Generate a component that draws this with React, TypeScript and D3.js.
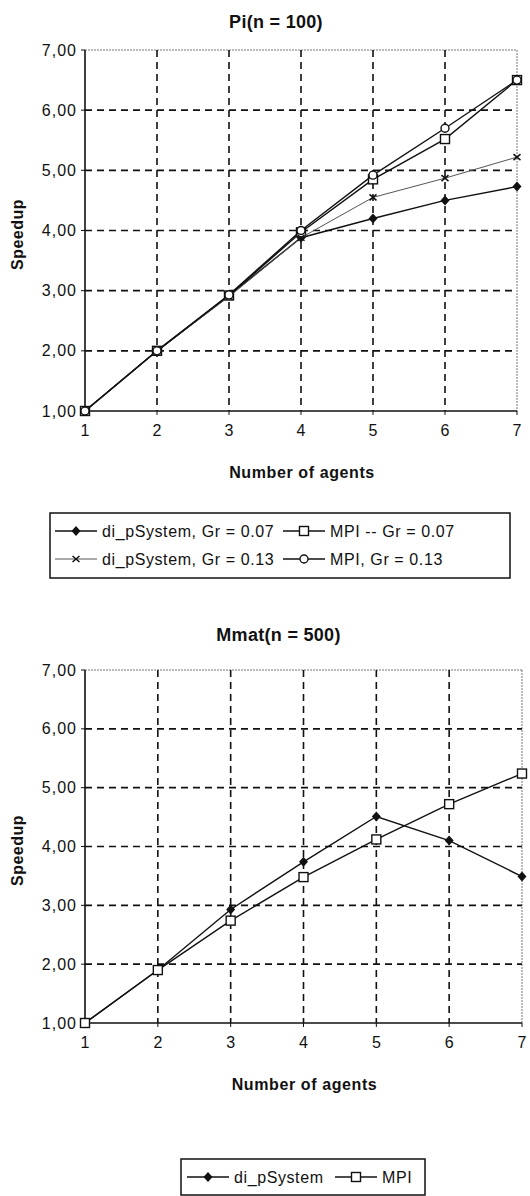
import React from "react";
import * as d3 from "d3";

// shared x categories
const agents = [1, 2, 3, 4, 5, 6, 7];
const yTicks = [1, 2, 3, 4, 5, 6, 7];

// Pi(n = 100)
const piDiP007 = [1.0, 2.0, 2.92, 3.88, 4.2, 4.5, 4.73];
const piMpi007 = [1.0, 2.0, 2.92, 3.97, 4.85, 5.52, 6.5];
const piDiP013 = [1.0, 2.0, 2.9, 3.88, 4.55, 4.87, 5.22];
const piMpi013 = [1.0, 2.0, 2.93, 4.0, 4.92, 5.7, 6.5];

// Mmat(n = 500)
const mmDiP = [1.0, 1.9, 2.93, 3.74, 4.51, 4.1, 3.49];
const mmMpi = [1.0, 1.9, 2.74, 3.48, 4.12, 4.72, 5.24];

const FONT = "Arial, 'Liberation Sans', sans-serif";

type Series = { name: string; values: number[]; marker: string; thin?: boolean };

const Marker = ({ type, x, y }: { type: string; x: number; y: number }) => {
  if (type === "diamond")
    return <path d={`M${x},${y - 5}L${x + 4.5},${y}L${x},${y + 5}L${x - 4.5},${y}Z`} fill="#111" />;
  if (type === "square")
    return <rect x={x - 4.5} y={y - 4.5} width={9} height={9} fill="#fff" stroke="#111" strokeWidth={1.4} />;
  if (type === "circle")
    return <circle cx={x} cy={y} r={4} fill="#fff" stroke="#111" strokeWidth={1.4} />;
  // x marker
  return (
    <g stroke="#111" strokeWidth={1.5}>
      <line x1={x - 3.5} y1={y - 3} x2={x + 3.5} y2={y + 3} />
      <line x1={x - 3.5} y1={y + 3} x2={x + 3.5} y2={y - 3} />
    </g>
  );
};

const Chart = ({
  top, bottom, right, title, titleY, series,
}: { top: number; bottom: number; right: number; title: string; titleY: number; series: Series[] }) => {
  const left = 85;
  const x = d3.scaleLinear().domain([1, 7]).range([left, right]);
  const y = d3.scaleLinear().domain([1, 7]).range([bottom, top]);
  const line = d3.line<number>().x((_, i) => x(agents[i])).y((d) => y(d));

  return (
    <g fontFamily={FONT} fill="#111">
      <text x={(left + right) / 2 - 25} y={titleY} textAnchor="middle" fontSize={18} fontWeight="bold" letterSpacing={0.3}>
        {title}
      </text>
      {/* frame top/right dotted */}
      <line x1={left} x2={right} y1={top} y2={top} stroke="#777" strokeDasharray="2,1" />
      <line x1={right} x2={right} y1={top} y2={bottom} stroke="#777" strokeDasharray="2,1" />
      {/* grid */}
      {yTicks.slice(1, -1).map((t) => (
        <line key={"h" + t} x1={left} x2={right} y1={y(t)} y2={y(t)} stroke="#111" strokeWidth={1.6} strokeDasharray="7,5" />
      ))}
      {agents.slice(1, -1).map((t) => (
        <line key={"v" + t} x1={x(t)} x2={x(t)} y1={top} y2={bottom} stroke="#111" strokeWidth={1.6} strokeDasharray="7,5" />
      ))}
      {/* axes */}
      <line x1={left} x2={left} y1={top} y2={bottom} stroke="#111" strokeWidth={1.6} />
      <line x1={left} x2={right} y1={bottom} y2={bottom} stroke="#111" strokeWidth={1.6} />
      {yTicks.map((t) => (
        <g key={"yt" + t}>
          <line x1={left - 4} x2={left} y1={y(t)} y2={y(t)} stroke="#111" />
          <text x={left - 8} y={y(t) + 5.5} textAnchor="end" fontSize={16} letterSpacing={1}>
            {d3.format(".2f")(t).replace(".", ",")}
          </text>
        </g>
      ))}
      {agents.map((t) => (
        <g key={"xt" + t}>
          <line x1={x(t)} x2={x(t)} y1={bottom} y2={bottom + 4} stroke="#111" />
          <text x={x(t)} y={bottom + 25} textAnchor="middle" fontSize={16}>
            {t}
          </text>
        </g>
      ))}
      <text
        transform={`translate(23,${(top + bottom) / 2 + 4}) rotate(-90)`}
        textAnchor="middle"
        fontSize={16}
        fontWeight="bold"
        letterSpacing={0.5}
      >
        Speedup
      </text>
      <text x={(left + right) / 2 + 1} y={bottom + 67} textAnchor="middle" fontSize={16} fontWeight="bold" letterSpacing={0.6}>
        Number of agents
      </text>
      {series.map((s) => (
        <g key={s.name}>
          <path d={line(s.values) || ""} fill="none" stroke={s.thin ? "#555" : "#111"} strokeWidth={s.thin ? 1 : 1.4} />
          {s.values.map((v, i) => (
            <Marker key={i} type={s.marker} x={x(agents[i])} y={y(v)} />
          ))}
        </g>
      ))}
    </g>
  );
};

const LegendItem = ({ x, y, marker, label, thin }: { x: number; y: number; marker: string; label: string; thin?: boolean }) => (
  <g>
    <line x1={x} x2={x + 42} y1={y} y2={y} stroke={thin ? "#555" : "#111"} strokeWidth={thin ? 1 : 1.4} />
    <Marker type={marker} x={x + 21} y={y} />
    <text x={x + 47} y={y + 5.5} fontSize={16} letterSpacing={0.6} fontFamily={FONT} fill="#111">
      {label}
    </text>
  </g>
);

const piSeries: Series[] = [
  { name: "di_pSystem, Gr = 0.07", values: piDiP007, marker: "diamond" },
  { name: "MPI -- Gr = 0.07", values: piMpi007, marker: "square" },
  { name: "di_pSystem, Gr = 0.13", values: piDiP013, marker: "x", thin: true },
  { name: "MPI, Gr = 0.13", values: piMpi013, marker: "circle" },
];

const mmSeries: Series[] = [
  { name: "di_pSystem", values: mmDiP, marker: "diamond" },
  { name: "MPI", values: mmMpi, marker: "square" },
];

export default function App() {
  return (
    <svg width={530} height={1196} style={{ position: "absolute", left: 0, top: 0, background: "#fff" }}>
      <Chart top={50} bottom={411} right={517} title="Pi(n = 100)" titleY={28} series={piSeries} />
      <rect x={50} y={513} width={460} height={65} fill="none" stroke="#111" strokeWidth={1.5} />
      <LegendItem x={55} y={531} marker="diamond" label={piSeries[0].name} />
      <LegendItem x={283} y={531} marker="square" label={piSeries[1].name} />
      <LegendItem x={55} y={559} marker="x" label={piSeries[2].name} thin />
      <LegendItem x={283} y={559} marker="circle" label={piSeries[3].name} />

      <Chart top={670} bottom={1023} right={522} title="Mmat(n = 500)" titleY={641} series={mmSeries} />
      <rect x={181} y={1159} width={244} height={36} fill="none" stroke="#111" strokeWidth={1.5} />
      <LegendItem x={187} y={1177} marker="diamond" label={mmSeries[0].name} />
      <LegendItem x={335} y={1177} marker="square" label={mmSeries[1].name} />
    </svg>
  );
}
